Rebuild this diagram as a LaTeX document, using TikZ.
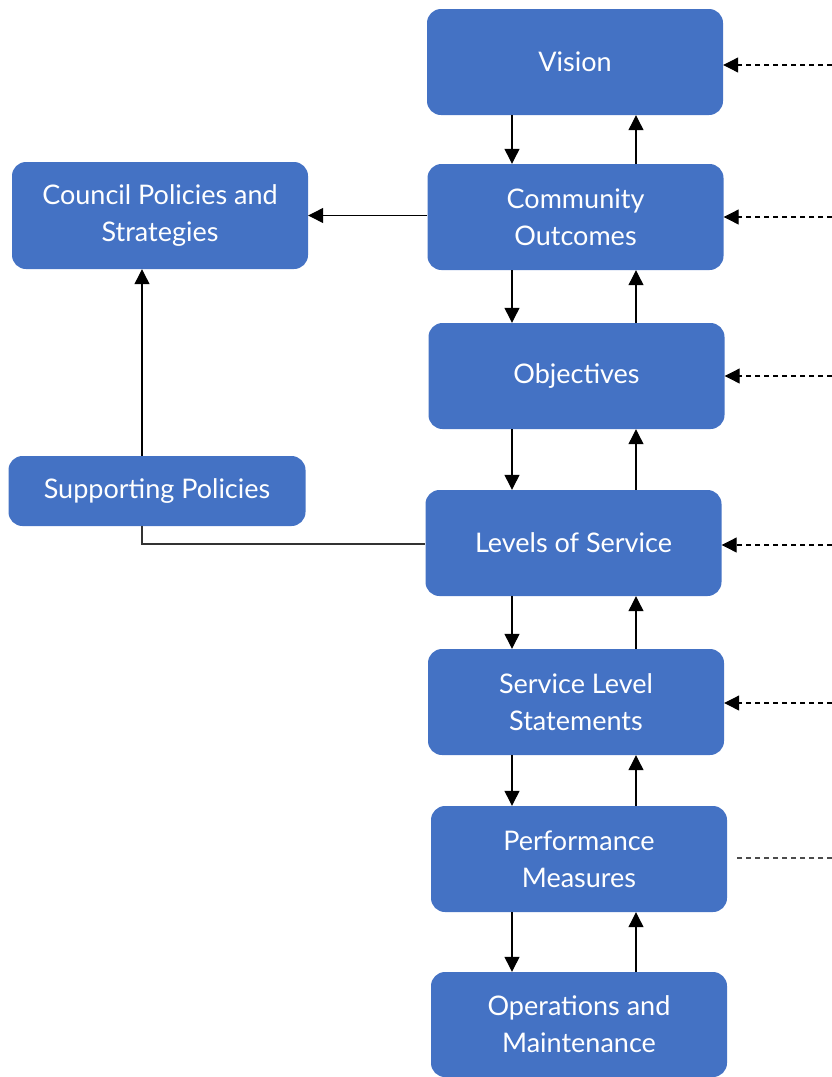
\documentclass[tikz,border=0pt]{standalone}
\usepackage{fontspec}
\setmainfont{Lato}
\usetikzlibrary{arrows.meta}
\definecolor{boxblue}{HTML}{4472C4}
\begin{document}
\begin{tikzpicture}[x=1pt,y=-1pt,
  box/.style={fill=boxblue, rounded corners=14pt, text=white, align=center,
    font=\fontsize{27}{37}\selectfont, inner sep=0pt, minimum width=296pt, minimum height=106pt},
  arr/.style={-{Triangle[length=15pt,width=15pt]}, line width=1.2pt, draw=black},
  plain/.style={line width=1.2pt, draw=black!80},
  dasharr/.style={-{Triangle[length=15pt,width=15pt]}, line width=1.1pt, draw=black, dash pattern=on 5pt off 4pt},
  dashplain/.style={line width=1.1pt, draw=black!70, dash pattern=on 5pt off 4pt}
]
\useasboundingbox (0,0) rectangle (832,1077);
\node[box] (vision) at (575,62) {Vision};
\node[box] (co) at (575.5,217) {Community\\Outcomes};
\node[box] (obj) at (576.5,376) {Objectives};
\node[box] (los) at (573.5,543) {Levels of Service};
\node[box] (sls) at (576,702) {Service Level\\Statements};
\node[box] (pm) at (579,859) {Performance\\Measures};
\node[box, minimum height=105pt] (om) at (579,1024.5) {Operations and\\Maintenance};
\node[box, minimum height=107pt] (council) at (160,215.5) {Council Policies and\\Strategies};
\node[box, minimum width=297pt, minimum height=70pt] (supp) at (157,491) {Supporting Policies};

\coordinate (dx) at (512,0);
\coordinate (ux) at (636,0);
\coordinate (lx) at (142,0);
\foreach \a/\b in {vision/co, co/obj, obj/los, los/sls, sls/pm, pm/om}{
  \draw[arr] (\a.south -| dx) -- (\b.north -| dx);
  \draw[arr] (\b.north -| ux) -- (\a.south -| ux);
}
\draw[arr] (co.west |- council.east) -- (council.east);
\draw[arr] (supp.north -| lx) -- (council.south -| lx);
\coordinate (corner) at (142,544);
\draw[plain] (supp.south -| lx) -- (corner) -- (los.west |- corner);

\coordinate (r1) at (832,65);
\coordinate (r2) at (832,217);
\coordinate (r3) at (832,376);
\coordinate (r4) at (832,545);
\coordinate (r5) at (832,703);
\coordinate (r6) at (832,858);
\coordinate (r6s) at (737,858);
\draw[dasharr] (r1) -- (vision.east |- r1);
\draw[dasharr] (r2) -- (co.east |- r2);
\draw[dasharr] (r3) -- (obj.east |- r3);
\draw[dasharr] (r4) -- (los.east |- r4);
\draw[dasharr] (r5) -- (sls.east |- r5);
\draw[dashplain] (r6) -- (r6s);
\end{tikzpicture}
\end{document}
